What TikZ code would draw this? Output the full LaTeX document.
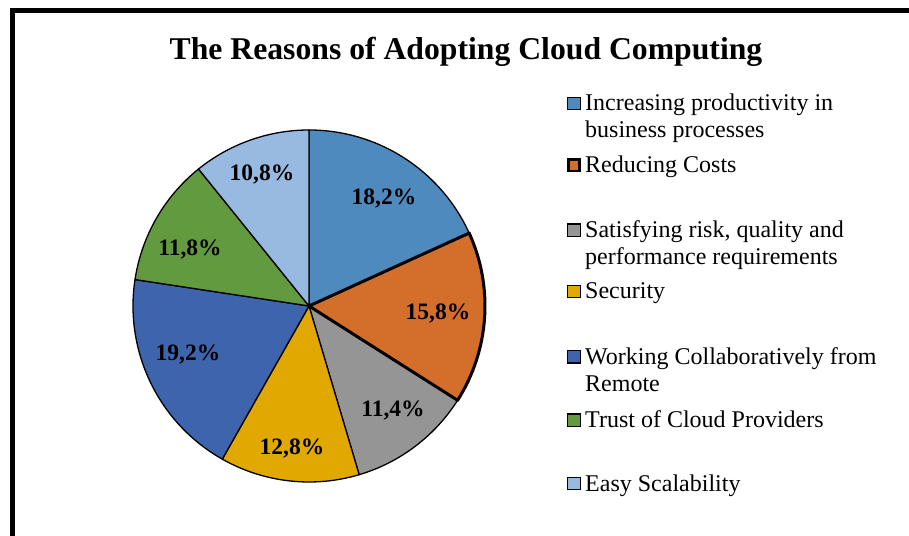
\documentclass[tikz,border=0pt]{standalone}
\usepackage{fontspec}
\setmainfont{Liberation Serif}
\definecolor{cA}{HTML}{4F8ABE}
\definecolor{cB}{HTML}{D46E2B}
\definecolor{cC}{HTML}{959595}
\definecolor{cD}{HTML}{E0A800}
\definecolor{cE}{HTML}{3D64AD}
\definecolor{cF}{HTML}{629A40}
\definecolor{cG}{HTML}{98B9E0}
\tikzset{
  slice/.style={draw=black, line width=1.3pt, line join=round},
  pctlabel/.style={inner sep=0pt, font=\fontsize{23.5}{27}\selectfont\bfseries},
  legtext/.style={anchor=base west, inner sep=0pt, font=\fontsize{24}{27}\selectfont},
  legbox/.style={draw=black, line width=1.2pt, minimum size=12.5pt, inner sep=0pt},
  frameline/.style={line width=5pt, line cap=butt, line join=miter}
}
\begin{document}
\begin{tikzpicture}[x=1pt,y=1pt]
\useasboundingbox (0,0) rectangle (909,535);
\fill[white] (0,0) rectangle (909,535);
% frame
\coordinate (fb) at (12,-5);
\coordinate (ftl) at (12,524.5);
\coordinate (fr) at (915,524.5);
\draw[frameline] (fb) -- (ftl) -- (fr);
% title
\node[anchor=base, inner sep=0pt, font=\fontsize{31.7}{36}\selectfont\bfseries] (title) at (466,475) {The Reasons of Adopting Cloud Computing};
% pie
\coordinate (c) at (309,229);
\def\R{176}
\filldraw[slice, fill=cA] (c) -- ++(90:\R) arc[start angle=90, end angle=24.48, radius=\R] -- cycle;
\filldraw[slice, fill=cC] (c) -- ++(-32.4:\R) arc[start angle=-32.4, end angle=-73.44, radius=\R] -- cycle;
\filldraw[slice, fill=cD] (c) -- ++(-73.44:\R) arc[start angle=-73.44, end angle=-119.52, radius=\R] -- cycle;
\filldraw[slice, fill=cE] (c) -- ++(-119.52:\R) arc[start angle=-119.52, end angle=-188.64, radius=\R] -- cycle;
\filldraw[slice, fill=cF] (c) -- ++(-188.64:\R) arc[start angle=-188.64, end angle=-231.12, radius=\R] -- cycle;
\filldraw[slice, fill=cG] (c) -- ++(-231.12:\R) arc[start angle=-231.12, end angle=-270, radius=\R] -- cycle;
\filldraw[slice, fill=cB, line width=3pt] (c) -- ++(24.48:\R) arc[start angle=24.48, end angle=-32.4, radius=\R] -- cycle;
% labels
\node[pctlabel] (p1) at (384,336) {18,2\%};
\node[pctlabel] (p2) at (438,221) {15,8\%};
\node[pctlabel] (p3) at (393,124) {11,4\%};
\node[pctlabel] (p4) at (292,86) {12,8\%};
\node[pctlabel] (p5) at (188,180) {19,2\%};
\node[pctlabel] (p6) at (190,285) {11,8\%};
\node[pctlabel] (p7) at (262,360) {10,8\%};
% legend
\node[legbox, fill=cA] (b1) at (574,431.5) {};
\node[legtext] (l1a) at (585,424) {Increasing productivity in};
\node[legtext] (l1b) at (585,397) {business processes};
\node[legbox, fill=cB, line width=2.6pt, minimum size=11.5pt] (b2) at (574,369.8) {};
\node[legtext] (l2) at (585,362.5) {Reducing Costs};
\node[legbox, fill=cC] (b3) at (574,304.8) {};
\node[legtext] (l3a) at (585,297.5) {Satisfying risk, quality and};
\node[legtext] (l3b) at (585,270.7) {performance requirements};
\node[legbox, fill=cD] (b4) at (574,243.5) {};
\node[legtext] (l4) at (585,236) {Security};
\node[legbox, fill=cE] (b5) at (574,178.2) {};
\node[legtext] (l5a) at (585,170.7) {Working Collaboratively from};
\node[legtext] (l5b) at (585,143.3) {Remote};
\node[legbox, fill=cF] (b6) at (574,114.8) {};
\node[legtext] (l6) at (585,107.3) {Trust of Cloud Providers};
\node[legbox, fill=cG] (b7) at (574,51.5) {};
\node[legtext] (l7) at (585,44) {Easy Scalability};
\end{tikzpicture}
\end{document}
